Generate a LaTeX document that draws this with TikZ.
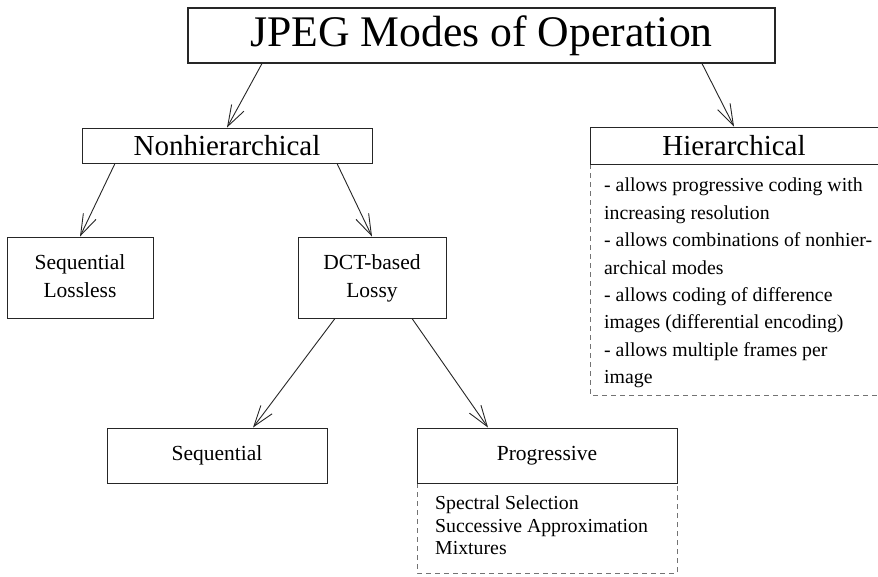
\documentclass[tikz,border=0pt]{standalone}
\usepackage{fontspec}
\setmainfont{Liberation Serif}
\usetikzlibrary{arrows.meta}
\begin{document}
\begin{tikzpicture}[x=1pt,y=-1pt,
  box/.style={draw=black!85, line width=0.9pt, inner sep=0pt, align=center, fill=white},
  arr/.style={draw=black!85, line width=0.9pt, -{Straight Barb[length=21pt,width=14pt,line width=0.9pt]}},
  dbox/.style={draw=black!55, line width=0.8pt, dash pattern=on 5pt off 4pt},
  big/.style={font=\fontsize{43.7pt}{50pt}\selectfont},
  mid/.style={font=\fontsize{29pt}{34pt}\selectfont},
  small/.style={font=\fontsize{21.5pt}{28.5pt}\selectfont},
  listtext/.style={anchor=north west, inner sep=0pt, align=left}
]
\useasboundingbox (0,0) rectangle (878,576);
\fill[white] (0,0) rectangle (878,576);

% dashed bodies
\draw[dbox] (590,164) -- (590,395) -- (878,395);
\draw[dbox] (417,483) -- (417,573) -- (677,573) -- (677,483);

% boxes
\node[box, big, line width=1.1pt, minimum width=587pt, minimum height=55pt] (title) at (481.5,35.5) {JPEG Modes of Operation};
\node[box, mid, minimum width=290pt, minimum height=35pt] (nonh) at (227,145.5) {Nonhierarchical};
\node[box, mid, minimum width=288pt, minimum height=37pt] (hier) at (734,145.5) {Hierarchical};
\node[box, small, minimum width=146pt, minimum height=81pt, text depth=3pt] (seqll) at (80,277.5) {Sequential\\Lossless};
\node[box, small, minimum width=148pt, minimum height=81pt, text depth=3pt] (dct) at (372,277.5) {DCT-based\\Lossy};
\node[box, small, minimum width=220pt, minimum height=55pt] (seq) at (217,455.5) {Sequential};
\node[box, small, minimum width=260pt, minimum height=55pt] (prog) at (547,455.5) {Progressive};

% list texts
\node[listtext, font=\fontsize{19.8pt}{27.4pt}\selectfont] (hiertext) at (604,178) {%
- allows progressive coding with\\
increasing resolution\\
- allows combinations of nonhier-\\
archical modes\\
- allows coding of difference\\
images (differential encoding)\\
- allows multiple frames per\\
image};
\node[listtext, font=\fontsize{19.8pt}{22.5pt}\selectfont] (progtext) at (435,496) {%
Spectral Selection\\
Successive Approximation\\
Mixtures};

% arrows
\draw[arr] ([xshift=-219.5pt]title.south) -- (nonh.north);
\draw[arr] ([xshift=220.5pt]title.south) -- (hier.north);
\draw[arr] ([xshift=-112pt]nonh.south) -- (seqll.north);
\draw[arr] ([xshift=110pt]nonh.south) -- (dct.north);
\draw[arr] ([xshift=-37pt]dct.south) -- ([xshift=36pt]seq.north);
\draw[arr] ([xshift=40pt]dct.south) -- ([xshift=-59pt]prog.north);
\end{tikzpicture}
\end{document}
